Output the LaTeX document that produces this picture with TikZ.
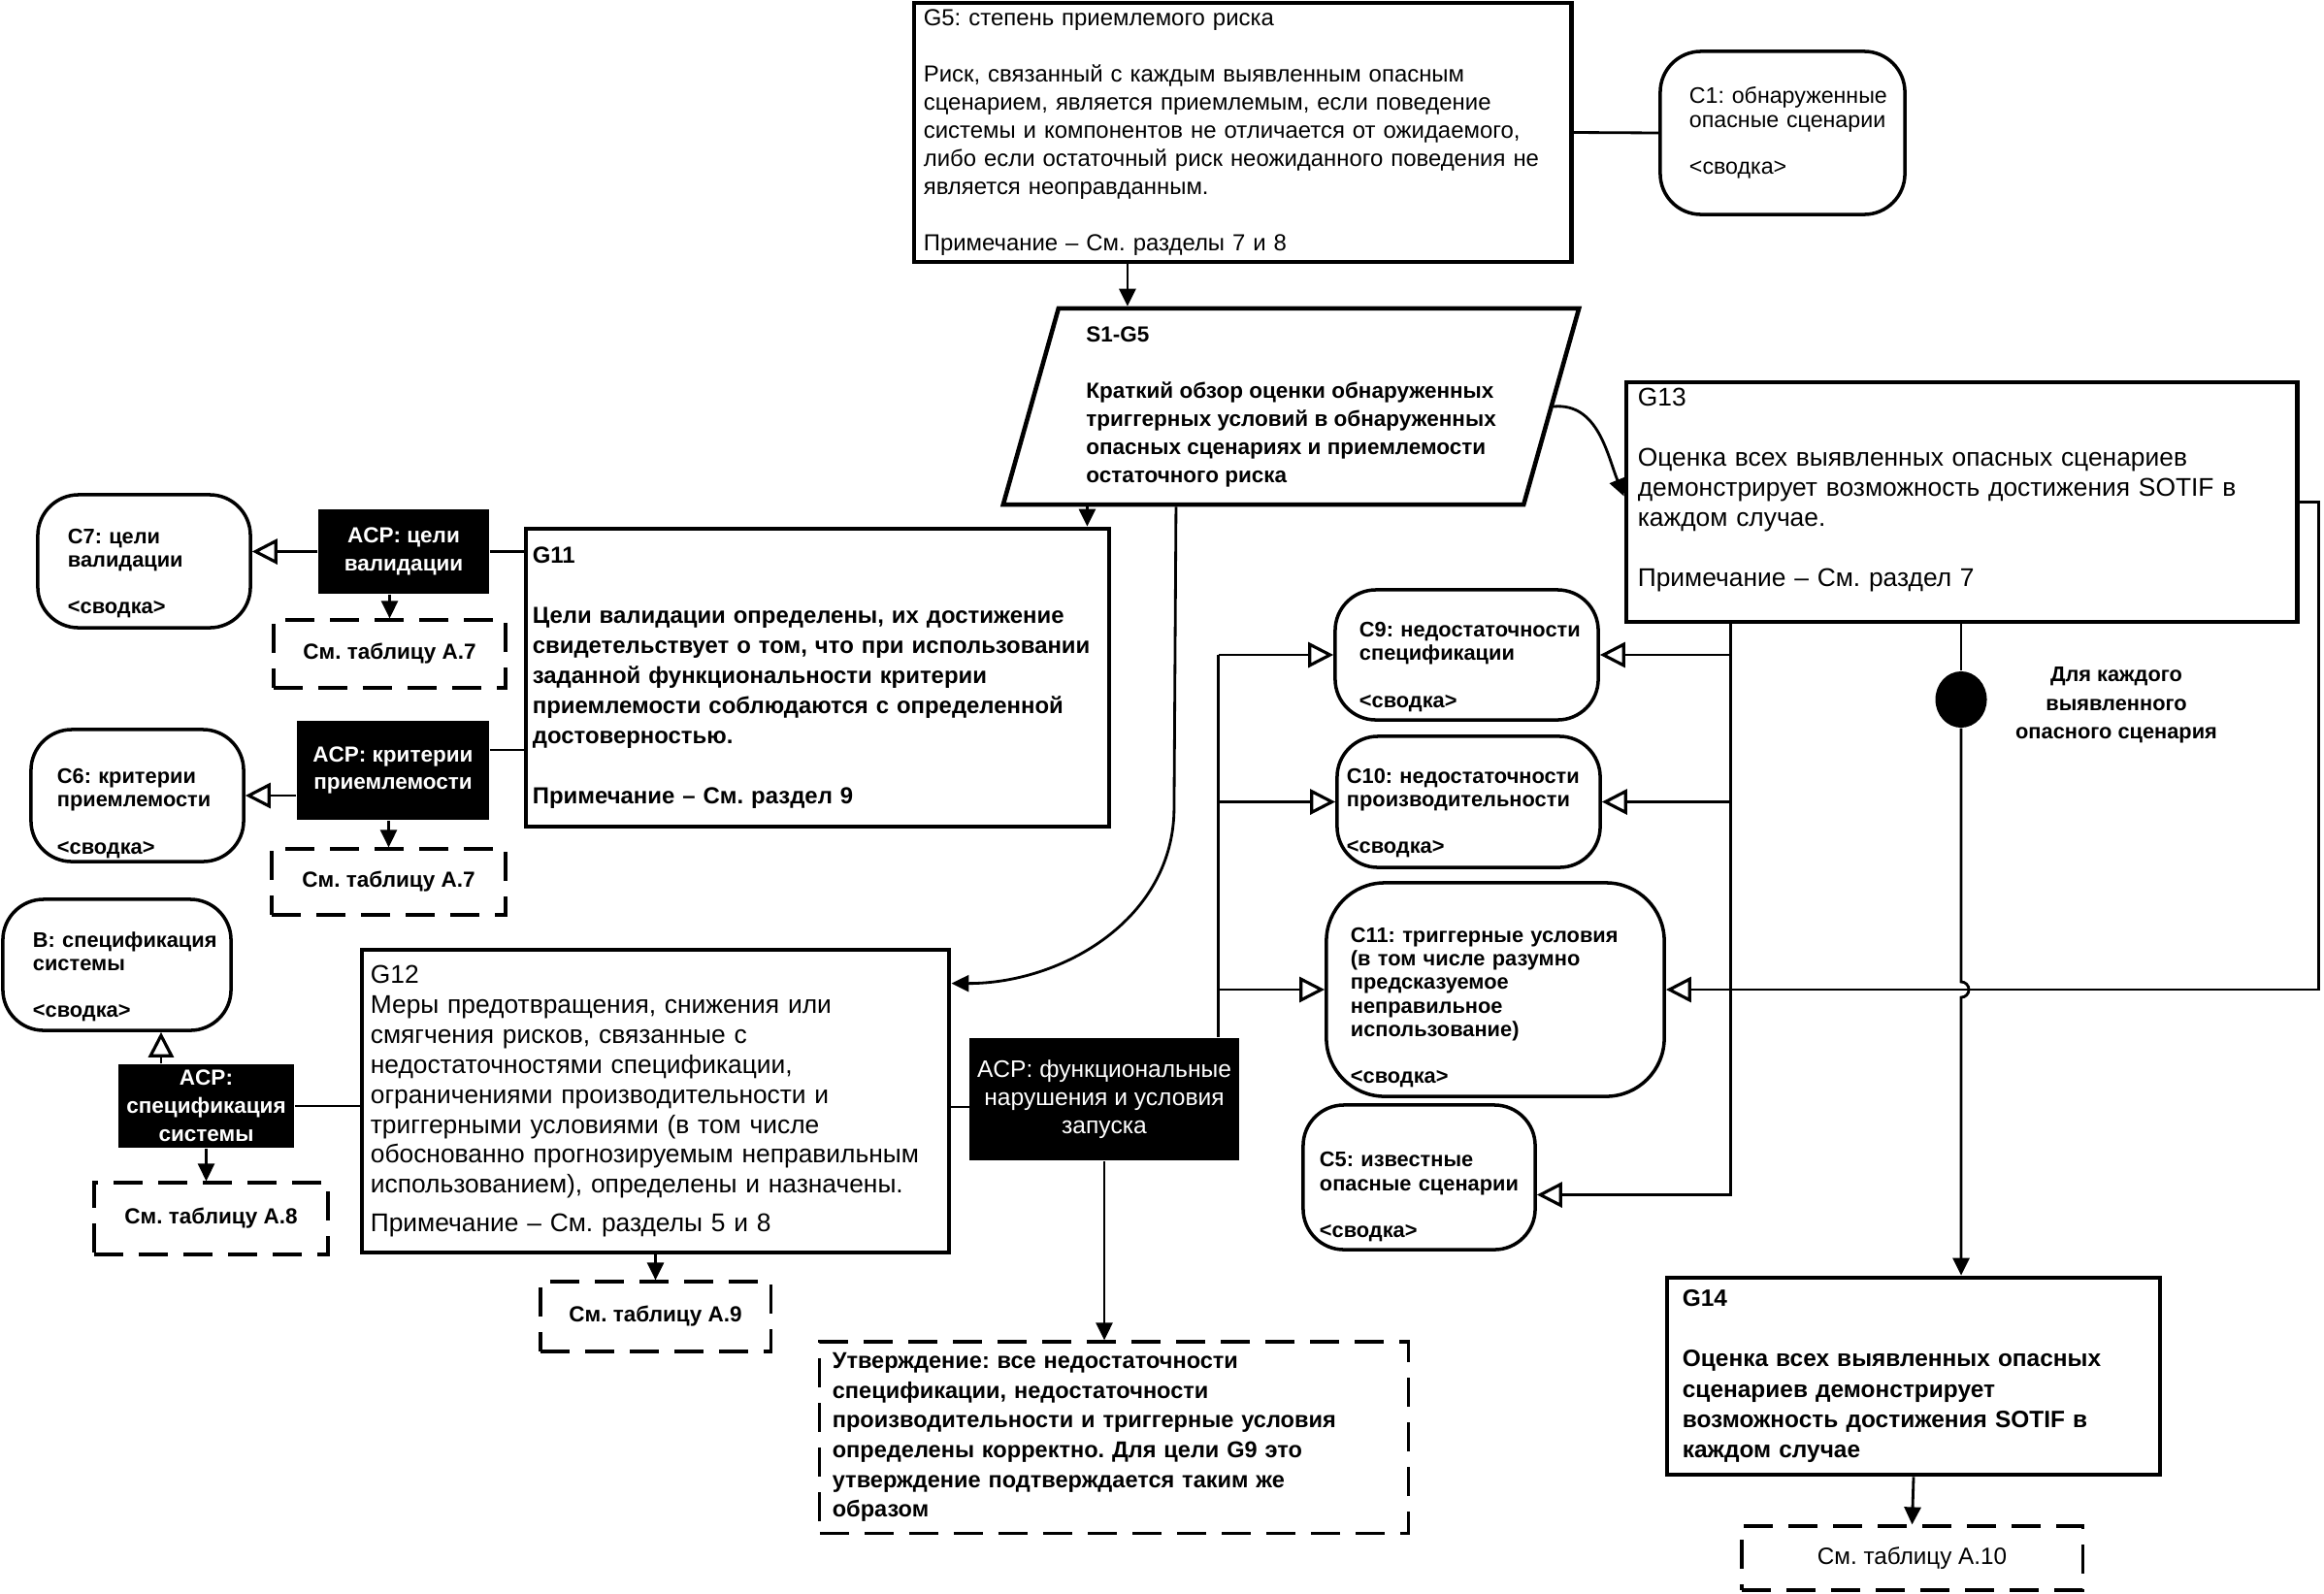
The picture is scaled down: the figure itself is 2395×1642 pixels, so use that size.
\documentclass[tikz,border=0pt]{standalone}
\usepackage{fontspec}
\setmainfont{Liberation Sans}
\usetikzlibrary{arrows.meta,shapes.geometric,calc}
\frenchspacing

\newcommand{\topgap}[1]{\mbox{}\\[#1]}

\tikzset{
  goal/.style={draw, line width=1.3pt, align=left, inner ysep=0pt},
  strategy/.style={draw, line width=1.3pt, trapezium, trapezium left angle=71,
    trapezium right angle=109, trapezium stretches body, align=left, inner sep=0pt},
  context/.style={draw, line width=1pt, rounded corners=0.42cm, align=left, inner ysep=0pt,
    font=\bfseries\fontsize{6.2}{6.9}\selectfont},
  acp/.style={fill=black, text=white, align=center, inner sep=0pt},
  tableref/.style={draw, line width=0.9pt, dash pattern=on 0.3cm off 0.16cm, align=center, inner sep=0pt},
  claim/.style={tableref, align=left, inner ysep=0pt},
  loopdot/.style={ellipse, fill=black, minimum width=0.53cm, minimum height=0.58cm, inner sep=0pt},
  link/.style={line width=0.8pt},
  arr/.style={link, -{Triangle[length=0.18cm, width=0.17cm]}},
  ctxarr/.style={link, -{Triangle[open, length=0.26cm, width=0.26cm, line width=0.9pt]}},
  plaintext/.style={font=\fontsize{7.5}{8.8}\selectfont},
  boldtext/.style={font=\bfseries\fontsize{6.8}{8.8}\selectfont},
  acptext/.style={font=\bfseries\fontsize{6.4}{8.2}\selectfont},
}

\begin{document}
\begin{tikzpicture}[x=0.01cm, y=-0.01cm]
  \useasboundingbox (0,0) rectangle (2395,1642);

  % верхняя цель и стратегия
  \node[goal, text width=6.57cm, inner xsep=0.1cm, minimum height=2.67cm,
        font=\fontsize{6.8}{8.25}\selectfont] (g5) at (1280.5,136.5)
    {G5: степень приемлемого риска\\[\baselineskip]
     Риск, связанный с каждым выявленным опасным\\
     сценарием, является приемлемым, если поведение\\
     системы и компонентов не отличается от ожидаемого,\\
     либо если остаточный риск неожиданного поведения не\\
     является неоправданным.\\[\baselineskip]
     Примечание – См. разделы 7 и 8};
  \node[context, text width=1.92cm, inner xsep=0.3cm, minimum height=1.68cm,
        font=\fontsize{6.6}{6.9}\selectfont] (c1) at (1837,137)
    {C1:~обнаруженные\\опасные~сценарии\\[\baselineskip]<сводка>};
  \node[strategy, minimum width=5.93cm, minimum height=2.02cm,
        font=\bfseries\fontsize{6.4}{8.25}\selectfont] (s1g5) at (1330.5,419)
    {S1-G5\\[\baselineskip]
     Краткий обзор оценки обнаруженных\\
     триггерных условий в обнаруженных\\
     опасных сценариях и приемлемости\\
     остаточного риска};

  % цели G11 - G14
  \node[goal, plaintext, text width=6.67cm, inner xsep=0.12cm, minimum height=2.47cm] (g13) at (2021.5,517.5)
    {G13\\[\baselineskip]
     Оценка всех выявленных опасных сценариев\\
     демонстрирует возможность достижения SOTIF~в\\
     каждом случае.\\[\baselineskip]
     Примечание – См. раздел 7\\ \mbox{}};
  \node[goal, boldtext, text width=5.87cm, inner xsep=0.07cm, minimum height=3.07cm] (g11) at (842.5,698.5)
    {G11\\[\baselineskip]
     Цели валидации определены, их достижение\\
     свидетельствует о том, что при использовании\\
     заданной функциональности критерии\\
     приемлемости соблюдаются с определенной\\
     достоверностью.\\[\baselineskip]
     Примечание – См. раздел 9};
  \node[goal, plaintext, text width=5.87cm, inner xsep=0.09cm, minimum height=3.12cm] (g12) at (675.5,1135)
    {G12\\
     Меры предотвращения, снижения или\\
     смягчения рисков, связанные с\\
     недостаточностями спецификации,\\
     ограничениями производительности и\\
     триггерными условиями (в том числе\\
     обоснованно прогнозируемым неправильным\\
     использованием), определены и назначены.\\[2.5pt]
     Примечание – См. разделы 5 и 8};
  \node[goal, font=\bfseries\fontsize{6.95}{8.9}\selectfont, text width=4.76cm, inner xsep=0.16cm,
        minimum height=2.03cm] (g14) at (1972,1418.5)
    {G14\\[\baselineskip]
     Оценка всех выявленных опасных\\
     сценариев демонстрирует\\
     возможность достижения SOTIF в\\
     каждом случае};

  % контексты слева
  \node[acp, acptext, minimum width=1.76cm, minimum height=0.87cm] (acp1) at (416,568.5) {ACP: цели\\валидации};
  \node[context, text width=1.57cm, inner xsep=0.31cm, minimum height=1.37cm] (c7) at (148.5,578.5)
    {\topgap{4.6pt}C7:~цели\\валидации\\[\baselineskip]<сводка>};
  \node[tableref, acptext, minimum width=2.39cm, minimum height=0.70cm] (d1) at (401.5,674) {См. таблицу А.7};

  \node[acp, acptext, minimum width=1.98cm, minimum height=1.02cm] (acp2) at (405,794) {ACP: критерии\\приемлемости};
  \node[context, text width=1.65cm, inner xsep=0.27cm, minimum height=1.36cm] (c6) at (141.5,820)
    {\topgap{8pt}C6:~критерии\\приемлемости\\[\baselineskip]<сводка>};
  \node[tableref, acptext, minimum width=2.41cm, minimum height=0.68cm] (d2) at (400.5,909) {См. таблицу А.7};

  \node[context, text width=1.73cm, inner xsep=0.31cm, minimum height=1.35cm] (b) at (120.5,994.5)
    {\topgap{4.6pt}B:~спецификация\\системы\\[\baselineskip]<сводка>};
  \node[acp, acptext, minimum width=1.81cm, minimum height=0.86cm] (acp3) at (212.5,1140) {ACP:\\спецификация\\системы};
  \node[tableref, acptext, minimum width=2.41cm, minimum height=0.74cm] (d3) at (217.5,1256) {См. таблицу А.8};
  \node[tableref, acptext, minimum width=2.37cm, minimum height=0.72cm] (d4) at (675.5,1357) {См. таблицу А.9};

  % функциональные нарушения
  \node[acp, font=\fontsize{7}{8.2}\selectfont, minimum width=2.77cm, minimum height=1.26cm] (acp4) at (1138,1133)
    {ACP: функциональные\\нарушения и условия\\запуска};
  \node[claim, font=\bfseries\fontsize{6.7}{8.7}\selectfont, text width=5.8cm, inner xsep=0.13cm,
        minimum height=1.97cm] (d5) at (1148,1481.5)
    {Утверждение: все недостаточности\\
     спецификации, недостаточности\\
     производительности и триггерные условия\\
     определены корректно. Для цели G9 это\\
     утверждение подтверждается таким же\\
     образом};

  % контексты справа
  \node[context, text width=2.21cm, inner xsep=0.25cm, minimum height=1.34cm] (c9) at (1511.5,675)
    {\topgap{4.6pt}C9:~недостаточности\\спецификации\\[\baselineskip]<сводка>};
  \node[context, text width=2.51cm, inner xsep=0.1cm, minimum height=1.35cm] (c10) at (1513.5,826.5)
    {\topgap{4pt}C10:~недостаточности\\производительности\\[\baselineskip]<сводка>};
  \node[context, rounded corners=0.6cm, text width=2.98cm, inner xsep=0.25cm, minimum height=2.2cm] (c11) at (1541,1020)
    {\topgap{8pt}C11:~триггерные условия\\(в том числе разумно\\предсказуемое\\неправильное\\использование)\\[\baselineskip]<сводка>};
  \node[context, text width=2.05cm, inner xsep=0.17cm, minimum height=1.49cm] (c5) at (1462.5,1213.5)
    {\topgap{9pt}C5:~известные\\опасные~сценарии\\[\baselineskip]<сводка>};

  \node[loopdot] (each) at (2021,721) {};
  \node[align=center, font=\bfseries\fontsize{6.2}{8.4}\selectfont] (eachlbl) at (2181,727)
    {Для каждого\\выявленного\\опасного сценария};
  \node[tableref, font=\fontsize{6.9}{8}\selectfont, minimum width=3.51cm, minimum height=0.66cm] (d6) at (1970.5,1606)
    {См. таблицу А.10};

  % связи сверху
  \coordinate (g5out) at ($(g5.south)+(-1.185cm,0)$);
  \draw[arr] (g5out) -- (g5out |- s1g5.north);
  \draw[link] (g5.east) -- (c1.west);
  \coordinate (g11in) at ($(g11.north east)+(-0.25cm,0)$);
  \draw[arr] (g11in |- s1g5.south) -- (g11in);
  \draw[arr] (s1g5.east) to[out=5,in=112] ($(g13.west)+(0,0.06cm)$);
  \coordinate (s1down) at ($(s1g5.center |- s1g5.south)+(-1.185cm,0)$);
  \coordinate (g12in) at ($(g12.north east)+(0,-0.37cm)$);
  \draw[arr] (s1down) -- ($(s1down)+(-0.02cm,-3.1cm)$) to[out=-90,in=0] (g12in);

  % связи слева
  \draw[link] (acp1.east) -- (acp1.east -| g11.west);
  \draw[ctxarr] (acp1.west) -- (acp1.west -| c7.east);
  \draw[arr] (d1.north |- acp1.south) -- (d1.north);
  \coordinate (acp2g) at ($(acp2.east)+(0,0.21cm)$);
  \draw[link] (acp2g) -- (acp2g -| g11.west);
  \draw[ctxarr] (c6.east -| acp2.west) -- (c6.east);
  \draw[arr] (d2.north |- acp2.south) -- (d2.north);
  \coordinate (acp3b) at ($(acp3.north)+(-0.465cm,0)$);
  \draw[ctxarr] (acp3b) -- (acp3b |- b.south);
  \draw[link] (acp3.east) -- (acp3.east -| g12.west);
  \draw[arr] (acp3.south) -- (acp3.south |- d3.north);
  \draw[arr] (g12.south) -- (d4.north);

  % функциональные нарушения
  \coordinate (acp4l) at ($(acp4.west)+(0,-0.08cm)$);
  \draw[link] (acp4l) -- (acp4l -| g12.east);
  \draw[arr] (acp4.south) -- (acp4.south |- d5.north);
  \coordinate (abus) at ($(acp4.north)+(1.175cm,0)$);
  \draw[link] (abus) -- (abus |- c9.west);
  \draw[ctxarr] (abus |- c9.west) -- (c9.west);
  \draw[ctxarr] (abus |- c10.west) -- (c10.west);
  \draw[ctxarr] (abus |- c11.west) -- (c11.west);

  % связи от G13
  \coordinate (gbus) at ($(g13.south)+(-2.375cm,0)$);
  \coordinate (c5r) at ($(c5.east)+(0,-0.18cm)$);
  \draw[ctxarr] (gbus) -- (gbus |- c5r) -- (c5r);
  \draw[ctxarr] (gbus |- c9.east) -- (c9.east);
  \draw[ctxarr] (gbus |- c10.east) -- (c10.east);
  \draw[ctxarr] (g13.east) -- ++(0.2cm,0) |- (c11.east);
  \draw[link] (g13.south -| each) -- (each);
  \draw[arr] (each) -- ($(each |- c11.east)+(0,0.08cm)$)
    arc[start angle=90, end angle=-90, radius=0.08cm] -- (each |- g14.north);
  \draw[arr] (g14.south) -- (d6.north);
\end{tikzpicture}
\end{document}
